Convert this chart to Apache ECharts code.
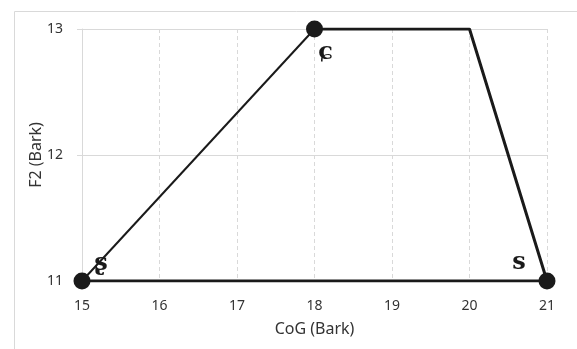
<!DOCTYPE html>
<html><head><meta charset="utf-8">
<script src="https://cdn.jsdelivr.net/npm/echarts@6/dist/echarts.min.js"></script>
<style>html,body{margin:0;padding:0;background:#fff}#c{width:577px;height:349px}</style>
</head><body><div id="c"></div>
<script>
// Data
const xTicks = [15, 16, 17, 18, 19, 20, 21];
const yTicks = [11, 12, 13];
const thinEdge = [[15, 11], [18, 13]];
const thickEdge = [[18, 13], [20, 13], [21, 11], [15, 11]];
const points = [[15, 11], [18, 13], [21, 11]];
const pointLabels = ['ʂ', 'ɕ', 's'];
const labelOffsets = [[19, -17], [11, 24], [-28, -18]];

const chart = echarts.init(document.getElementById('c'), null, {renderer: 'canvas'});
const font = '"Noto Sans", "Open Sans", sans-serif';
chart.setOption({
  animation: false,
  graphic: [{type: 'rect', left: 12, top: 9, shape: {width: 620, height: 400}, style: {fill: 'none', stroke: '#d9d9d9', lineWidth: 1}, z: -10}],
  grid: {left: 82, right: 30, top: 29, bottom: 68},
  xAxis: {
    type: 'value', min: xTicks[0], max: xTicks[xTicks.length - 1], interval: 1,
    name: 'CoG (Bark)', nameLocation: 'middle', nameGap: 40,
    nameTextStyle: {fontFamily: font, fontSize: 16, color: '#333'},
    axisLine: {lineStyle: {color: '#d9d9d9'}},
    axisTick: {show: false},
    axisLabel: {fontFamily: font, fontSize: 14, color: '#333', margin: 18},
    splitLine: {show: true, lineStyle: {color: '#d9d9d9', type: [4, 3]}}
  },
  yAxis: {
    type: 'value', min: yTicks[0], max: yTicks[yTicks.length - 1], interval: 1,
    name: 'F2 (Bark)', nameLocation: 'middle', nameGap: 38, nameMoveOverlap: false,
    nameTextStyle: {fontFamily: font, fontSize: 16, color: '#333'},
    axisLine: {show: true, lineStyle: {color: '#d9d9d9'}},
    axisTick: {show: true, length: 5, lineStyle: {color: '#d9d9d9'}},
    axisLabel: {fontFamily: font, fontSize: 14, color: '#333', margin: 19},
    splitLine: {show: true, lineStyle: {color: '#d9d9d9'}}
  },
  series: [
    {type: 'line', data: thinEdge, showSymbol: false, symbol: 'none', lineStyle: {color: '#1a1a1a', width: 2}, z: 3},
    {type: 'line', data: thickEdge, showSymbol: false, symbol: 'none', lineStyle: {color: '#1a1a1a', width: 3}, z: 3},
    {type: 'scatter', symbol: 'circle', symbolSize: 17, itemStyle: {color: '#1a1a1a', opacity: 1}, z: 5,
     data: points.map((p, i) => ({value: p, label: {show: true, formatter: pointLabels[i], offset: labelOffsets[i], position: 'inside',
       fontFamily: '"DejaVu Serif", "Liberation Serif", serif', fontWeight: 'bold', fontSize: 24, color: '#1a1a1a'}}))}
  ]
});
</script></body></html>
